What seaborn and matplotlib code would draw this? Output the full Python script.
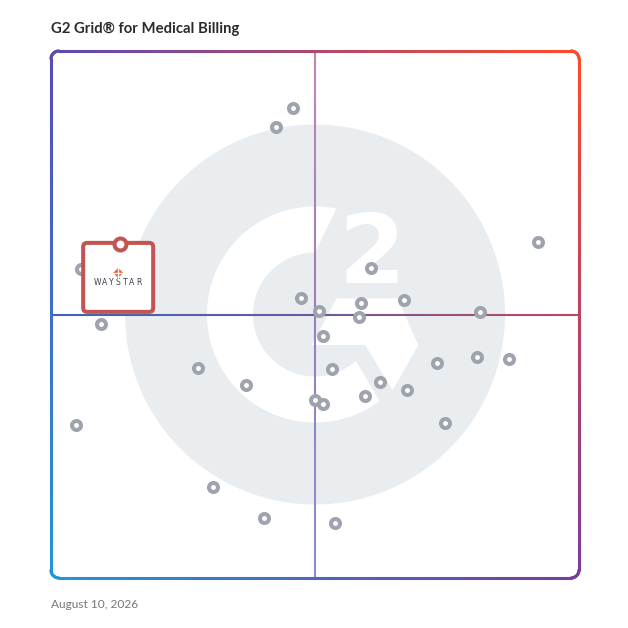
import numpy as np
import pandas as pd
import matplotlib
matplotlib.use("Agg")
import matplotlib.pyplot as plt
import seaborn as sns
from matplotlib.collections import LineCollection
from matplotlib.patches import Polygon, Circle, FancyBboxPatch
from matplotlib.transforms import IdentityTransform
from matplotlib.colors import to_rgb

# ---------------- data ----------------
title = "G2 Grid\u00ae for Medical Billing"
date_label = "August 10, 2026"

satisfaction = [45.8, 42.6, 92.2, 60.7, 5.7, 47.3, 58.8, 66.9, 50.8, 58.3,
                81.3, 9.5, 51.6, 27.9, 36.9, 53.2, 73.2, 80.6, 86.7, 62.4,
                59.5, 67.5, 50.0, 51.6, 74.6, 4.7, 30.6, 40.4, 53.8]
market_presence = [89.2, 85.5, 63.8, 58.8, 58.6, 53.1, 52.1, 52.8, 50.6, 49.5,
                   50.4, 48.2, 45.9, 39.9, 36.6, 39.6, 40.8, 41.9, 41.6, 37.1,
                   34.6, 35.7, 33.7, 33.0, 29.5, 29.0, 17.3, 11.3, 10.4]

featured_name = "WAYSTAR"
featured_satisfaction = [13.1]
featured_presence = [63.4]

df = pd.DataFrame({"satisfaction": satisfaction, "presence": market_presence})
feat = pd.DataFrame({"satisfaction": featured_satisfaction, "presence": featured_presence})

# ---------------- figure ----------------
sns.set_theme(style="white")
plt.rcParams["font.family"] = ["Lato", "DejaVu Sans"]

W = H = 628
fig = plt.figure(figsize=(W / 100, H / 100), dpi=100)
fig.patch.set_facecolor("white")

# background / decoration axes in pixel coordinates (y down)
bg = fig.add_axes([0, 0, 1, 1])
bg.set_xlim(0, W)
bg.set_ylim(H, 0)
bg.axis("off")

L, R, T, B = 51, 579, 51, 578
cx, cy = (L + R) / 2, (T + B) / 2

# G2 logo watermark
bg.add_patch(Circle((cx, cy), 190, color="#eaedf0", lw=0, zorder=1))

def arc(r, a0, a1, n=200):
    a = np.radians(np.linspace(a0, a1, n))
    return np.column_stack([cx + r * np.cos(a), cy - r * np.sin(a)])

g_shape = np.vstack([arc(108, 78.6, 306.7), arc(62, 311.5, 90)])
bg.add_patch(Polygon(g_shape, closed=True, color="white", lw=0, zorder=2))
chevron = [(311.7, 345), (336.7, 298.3), (397.3, 298.3), (418.3, 345),
           (392.7, 390), (365, 345)]
bg.add_patch(Polygon(chevron, closed=True, color="white", lw=0, zorder=2))
bg.text(372, 283, "2", fontsize=69, fontweight="bold", color="white",
        ha="center", va="baseline", family="DejaVu Sans", zorder=2)

def grad_line(ax, pts, cols, lw, z):
    pts = np.asarray(pts)
    segs = np.stack([pts[:-1], pts[1:]], axis=1)
    lc = LineCollection(segs, colors=cols, linewidths=lw, zorder=z,
                        capstyle="round", joinstyle="round")
    ax.add_collection(lc)

def interp3(c0, c1, c2, t):
    c0, c1, c2 = map(np.array, map(to_rgb, (c0, c1, c2)))
    t = np.asarray(t)[:, None]
    return np.where(t < 0.5, c0 + (c1 - c0) * (t * 2), c1 + (c2 - c1) * (t * 2 - 1))

# mid lines
n = 120
xs = np.linspace(L, R, n)
hpts = np.column_stack([xs, np.full(n, cy)])
tm = (np.arange(n - 1) + 0.5) / (n - 1)
grad_line(bg, hpts, interp3("#3b64bd", "#6b5a9e", "#c3465f", tm), 1.5, 3)
ys = np.linspace(T, B, n)
vpts = np.column_stack([np.full(n, cx), ys])
grad_line(bg, vpts, interp3("#c486b4", "#9a80b8", "#8a8fd2", tm), 1.5, 3)

# gradient rounded border
rr = 8
m = 80
def corner(x0, y0, a0, a1):
    a = np.radians(np.linspace(a0, a1, 12))
    return np.column_stack([x0 + rr * np.cos(a), y0 + rr * np.sin(a)])
path = np.vstack([
    np.column_stack([np.linspace(L + rr, R - rr, m), np.full(m, T)]),
    corner(R - rr, T + rr, -90, 0),
    np.column_stack([np.full(m, R), np.linspace(T + rr, B - rr, m)]),
    corner(R - rr, B - rr, 0, 90),
    np.column_stack([np.linspace(R - rr, L + rr, m), np.full(m, B)]),
    corner(L + rr, B - rr, 90, 180),
    np.column_stack([np.full(m, L), np.linspace(B - rr, T + rr, m)]),
    corner(L + rr, T + rr, 180, 270),
])
path = np.vstack([path, path[:1]])
mid = (path[:-1] + path[1:]) / 2
u = ((mid[:, 0] - L) / (R - L))[:, None]
v = ((mid[:, 1] - T) / (B - T))[:, None]
TL, TR_, BL, BR = (np.array(to_rgb(c)) for c in ("#5a4ab2", "#ff4a28", "#2196d6", "#7b3b9c"))
bcols = TL * (1 - u) * (1 - v) + TR_ * u * (1 - v) + BL * (1 - u) * v + BR * u * v
grad_line(bg, path, np.clip(bcols, 0, 1), 2.2, 4)

# texts
t1 = fig.text(L / W, 1 - 29 / H, title, fontsize=10.5, fontweight="bold",
              color="#2b2b2b", ha="left", va="center")
t2 = fig.text(L / W, 1 - 604 / H, date_label, fontsize=8.5,
              color="#787878", ha="left", va="center")

# ---------------- data axes ----------------
ax = fig.add_axes([L / W, (H - B) / H, (R - L) / W, (B - T) / H])
ax.set_xlim(0, 100)
ax.set_ylim(0, 100)
ax.axis("off")
ax.patch.set_alpha(0)

sns.scatterplot(data=df, x="satisfaction", y="presence", ax=ax, s=42,
                color="white", edgecolor="#9ea3ad", linewidth=2.9,
                zorder=3, legend=False, clip_on=False)

# featured product box
fig.canvas.draw()
px, py = ax.transData.transform((featured_satisfaction[0], featured_presence[0]))
box = FancyBboxPatch((px - 37, py - 68), 70, 69,
                     boxstyle="round,pad=0,rounding_size=4",
                     fc="white", ec="#c25552", lw=2.9,
                     transform=IdentityTransform(), zorder=5, clip_on=False)
ax.add_patch(box)
sns.scatterplot(data=feat, x="satisfaction", y="presence", ax=ax, s=74,
                color="white", edgecolor="#c25552", linewidth=2.9,
                zorder=6, legend=False, clip_on=False)

# waystar icon
ix, iy = px - 2, py - 29
d = 5
ax.add_patch(Polygon([(ix - d, iy), (ix, iy + d), (ix + d, iy), (ix, iy - d)],
                     closed=True, fc="#ee5a2c", lw=0,
                     transform=IdentityTransform(), zorder=7, clip_on=False))
ax.plot([ix - d, ix + d], [iy, iy], color="white", lw=1.0,
        transform=IdentityTransform(), zorder=8, clip_on=False)
ax.plot([ix, ix], [iy - d, iy + d], color="white", lw=1.0,
        transform=IdentityTransform(), zorder=8, clip_on=False)
step = 6.9
for k, ch in enumerate(featured_name):
    ax.text(px - 2 + (k - (len(featured_name) - 1) / 2) * step, py - 39, ch,
            fontsize=5.5, color="#3a3f4a", ha="center", va="center",
            family="DejaVu Sans", transform=IdentityTransform(), zorder=7)

# fit text widths to reference
fig.canvas.draw()
r = fig.canvas.get_renderer()
for t, target in ((t1, 188), (t2, 87)):
    w = t.get_window_extent(r).width
    t.set_fontsize(t.get_fontsize() * target / w)

fig.savefig("out.png", dpi=100)
